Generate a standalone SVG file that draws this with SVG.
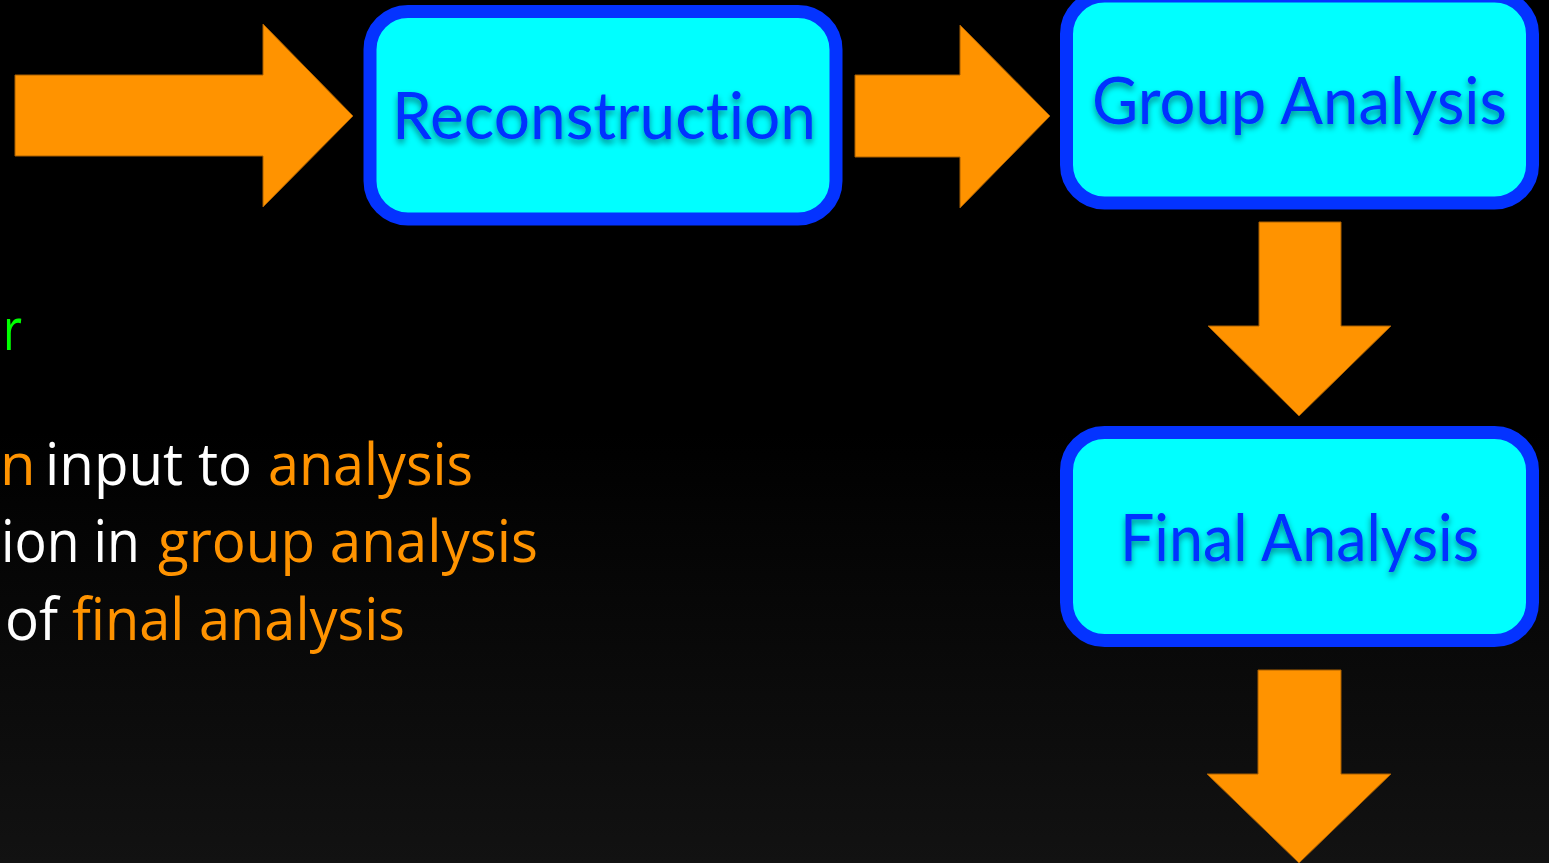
<svg xmlns="http://www.w3.org/2000/svg" width="1549" height="863" viewBox="0 0 1549 863">
<defs>
<linearGradient id="bg" x1="0" y1="0" x2="0" y2="1">
<stop offset="0" stop-color="#000000"/>
<stop offset="0.5" stop-color="#000000"/>
<stop offset="1" stop-color="#121212"/>
</linearGradient>
<filter id="shadow" x="-10%" y="-30%" width="120%" height="170%">
<feDropShadow dx="0" dy="4" stdDeviation="3" flood-color="#000000" flood-opacity="0.45"/>
</filter>
<style>
.arrow{fill:#ff9300;stroke:#a85f00;stroke-width:1}
.box{fill:#00ffff;stroke:#0433ff;stroke-width:13}
.label{font-family:"Lato","Open Sans",sans-serif;font-size:66px;fill:#0433ff;text-anchor:middle;filter:url(#shadow);font-variant-ligatures:none}
.body{font-family:"Open Sans","Noto Sans",sans-serif;font-size:58px}
.w{fill:#ffffff}
.o{fill:#ff9300}
.g{fill:#00ff00}
</style>
</defs>
<rect x="0" y="0" width="1549" height="863" fill="url(#bg)"/>
<g id="connectors">
<polygon class="arrow" points="15,75 263,75 263,24 353,116 263,207 263,156 15,156"/>
<polygon class="arrow" points="855,75 960,75 960,25 1050,116 960,208 960,157 855,157"/>
<polygon class="arrow" points="1259,222 1341,222 1341,326 1391,326 1299,416 1208,326 1259,326"/>
<polygon class="arrow" points="1258,670 1341,670 1341,774 1391,774 1299,863 1207,774 1258,774"/>
</g>
<g id="reconstruction">
<rect class="box" x="370" y="11.5" width="466" height="207.5" rx="38" ry="38"/>
<text class="label" x="604" y="139" textLength="424" lengthAdjust="spacingAndGlyphs">Reconstruction</text>
</g>
<g id="group-analysis">
<rect class="box" x="1066.5" y="-4" width="466" height="207" rx="38" ry="38"/>
<text class="label" x="1299.5" y="124" textLength="415" lengthAdjust="spacingAndGlyphs">Group Analysis</text>
</g>
<g id="final-analysis">
<rect class="box" x="1066.5" y="432.5" width="466" height="208" rx="38" ry="38"/>
<text class="label" x="1299.5" y="561" textLength="359" lengthAdjust="spacingAndGlyphs">Final Analysis</text>
</g>
<g id="notes" class="body">
<text class="g" x="3" y="350" textLength="19" lengthAdjust="spacingAndGlyphs">r</text>
<text class="o" x="0" y="485">n</text>
<text class="w" x="45" y="485" textLength="207" lengthAdjust="spacingAndGlyphs">input to</text>
<text class="o" x="268" y="485" textLength="205" lengthAdjust="spacingAndGlyphs">analysis</text>
<text class="w" x="1" y="562" textLength="139" lengthAdjust="spacingAndGlyphs">ion in</text>
<text class="o" x="158" y="562" textLength="380" lengthAdjust="spacingAndGlyphs">group analysis</text>
<text class="w" x="5" y="640" textLength="53" lengthAdjust="spacingAndGlyphs">of</text>
<text class="o" x="72" y="640" textLength="333" lengthAdjust="spacingAndGlyphs">final analysis</text>
</g>
</svg>
